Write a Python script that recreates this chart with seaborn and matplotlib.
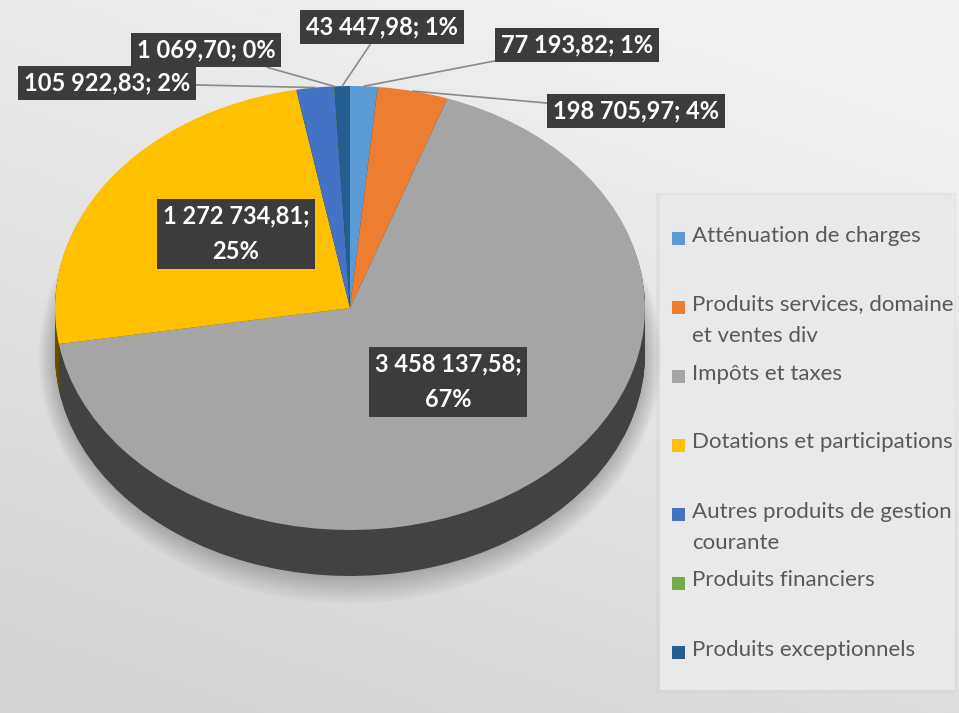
# Recettes de fonctionnement - camembert 3D (style Excel)
import numpy as np
import matplotlib
matplotlib.use("Agg")
import matplotlib.pyplot as plt
import seaborn as sns
from matplotlib.patches import Ellipse, Rectangle, Polygon

# ------------------------------------------------------------
# Data
# ------------------------------------------------------------

categories = [
    "Atténuation de charges",
    "Produits services, domaine\net ventes div",
    "Impôts et taxes",
    "Dotations et participations",
    "Autres produits de gestion\ncourante",
    "Produits financiers",
    "Produits exceptionnels",
]
values = [77193.82, 198705.97, 3458137.58, 1272734.81, 105922.83, 1069.70, 43447.98]
colors = ["#5b9bd5", "#ed7d31", "#a5a5a5", "#ffc000", "#4472c4", "#70ad47", "#255e91"]

# label centres in pixels, and whether the label sits inside its slice
label_pos = [(577, 45), (636, 111), (448, 382), (236, 234), (107, 83), (206, 50), (382, 27)]
label_inside = [False, False, True, True, False, False, False]

# ------------------------------------------------------------
# Style
# ------------------------------------------------------------

sns.set_theme(style="white")
plt.rcParams["font.family"] = ["Lato", "DejaVu Sans"]

W, H = 959, 713
fig = plt.figure(figsize=(W / 100, H / 100), dpi=100)

# background gradient
bg = fig.add_axes([0, 0, 1, 1], zorder=0)
gx, gy = np.meshgrid(np.linspace(0, 1, 300), np.linspace(0, 1, 300))
shade = 0.955 - 0.09 * gy - 0.04 * (1 - gx)
bg.imshow(shade, cmap="gray", vmin=0, vmax=1, extent=(0, W, H, 0), aspect="auto")
bg.set_xlim(0, W)
bg.set_ylim(H, 0)
bg.axis("off")

# ------------------------------------------------------------
# 3D-looking pie
# ------------------------------------------------------------

top, face_bottom, side_bottom, left, right = 86, 530, 576, 55, 645
ry = (face_bottom - top) / 2
t = (side_bottom - face_bottom) / ry

ax = fig.add_axes([left / W, (H - side_bottom) / H, (right - left) / W, (side_bottom - top) / H],
                  zorder=2)

# soft shadow under the pie
for i in range(10):
    ax.add_patch(Ellipse((0, -t - 0.01), 2.0 + 0.012 * i, 2.0 + 0.025 * i,
                         facecolor="black", alpha=0.022, linewidth=0, clip_on=False))

side_colors = [tuple(c * 0.4 for c in matplotlib.colors.to_rgb(col)) for col in colors]
for k in np.linspace(t, 0, 48, endpoint=False):
    ax.pie(values, colors=side_colors, startangle=90, counterclock=False,
           center=(0, -k), wedgeprops=dict(linewidth=0))

# lighter sheen on the left part of the side band
th = np.linspace(np.pi, 2 * np.pi, 200)
band = Polygon(np.r_[np.c_[np.cos(th), np.sin(th)], np.c_[np.cos(th[::-1]), np.sin(th[::-1]) - t]],
               closed=True, facecolor="none", edgecolor="none")
ax.add_patch(band)
sheen = np.linspace(0.16, 0.0, 200)[None, :]
img = ax.imshow(np.ones((1, 200)), cmap="gray", vmin=0, vmax=1, alpha=sheen,
                extent=(-1, 1, -1 - t, 0), aspect="auto")
img.set_clip_path(band)

wedges, _ = ax.pie(values, colors=colors, startangle=90, counterclock=False,
                   wedgeprops=dict(linewidth=0))

ax.set_aspect("auto")
ax.set_xlim(-1, 1)
ax.set_ylim(-1 - t, 1)
ax.axis("off")

# ------------------------------------------------------------
# Data labels
# ------------------------------------------------------------

total = sum(values)


def fr_number(v):
    return f"{v:,.2f}".replace(",", " ").replace(".", ",")


box = dict(boxstyle="square,pad=0.25", facecolor="#3c3c3c", edgecolor="none")

for w, v, (px, py), inside in zip(wedges, values, label_pos, label_inside):
    pct = f"{round(100 * v / total)}%"
    if inside:
        ax.annotate(f"{fr_number(v)};\n{pct}", xy=(px, py), xycoords=bg.transData,
                    ha="center", va="center", fontsize=17, fontweight="bold",
                    color="white", bbox=box, linespacing=1.65)
    else:
        ang = np.deg2rad((w.theta1 + w.theta2) / 2)
        ax.annotate(f"{fr_number(v)}; {pct}", xy=(np.cos(ang), np.sin(ang)),
                    xytext=(px, py), textcoords=bg.transData, ha="center", va="center",
                    fontsize=17, fontweight="bold", color="white", bbox=box,
                    arrowprops=dict(arrowstyle="-", color="#8a8a8a", lw=1.2,
                                    shrinkA=0, shrinkB=0))

# ------------------------------------------------------------
# Legend
# ------------------------------------------------------------

bg.add_patch(Rectangle((656, 193), 300, 500, facecolor="#d0d0d0", edgecolor="none", alpha=0.35))
bg.add_patch(Rectangle((660, 195), 295, 495, facecolor="#e9e9e9", edgecolor="none"))

for i, (cat, col) in enumerate(zip(categories, colors)):
    y = 238 + 69 * i
    bg.add_patch(Rectangle((672, y - 6.5), 13, 13, facecolor=col, edgecolor="none"))
    bg.text(692, y - 12.5, cat, ha="left", va="top", fontsize=16, color="#595959",
            linespacing=1.7)

fig.savefig("out.png", dpi=100)
